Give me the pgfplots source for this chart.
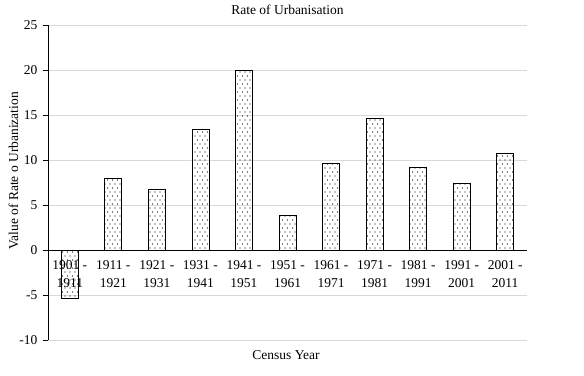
\documentclass[border=0pt]{standalone}
\usepackage{fontspec}
\setmainfont{Liberation Serif}
\usepackage{pgfplots}
\pgfplotsset{compat=1.18}
\usetikzlibrary{patterns}

% sparse staggered dot fill for the bars
\pgfdeclarepatternformonly{sparsedots}{\pgfqpoint{-0.8bp}{-0.8bp}}{\pgfqpoint{4.2bp}{7.2bp}}{\pgfqpoint{5bp}{8bp}}{%
  \pgfpathcircle{\pgfqpoint{0bp}{0bp}}{0.6bp}%
  \pgfpathcircle{\pgfqpoint{2.5bp}{4bp}}{0.6bp}%
  \pgfusepath{fill}%
}

\pgfplotstableread{
x  val
0  -5.35
1   7.9
2   6.75
3  13.45
4  19.9
5   3.8
6   9.65
7  14.65
8   9.2
9   7.45
10 10.75
}\urbanrate

\newcommand\chartfont{\fontsize{13.5bp}{15bp}\selectfont}

\begin{document}
\chartfont
\begin{tikzpicture}
\useasboundingbox (0,0) rectangle (584bp,376bp);
\begin{axis}[
  at={(48bp,36bp)}, anchor=south west,
  scale only axis, width=479bp, height=315bp,
  xmin=-0.5, xmax=10.5, ymin=-10, ymax=25,
  axis x line=middle, axis y line=left,
  x axis line style={-, black},
  y axis line style={-, black},
  xtick=data,
  xticklabels={{1901 -\\1911},{1911 -\\1921},{1921 -\\1931},{1931 -\\1941},{1941 -\\1951},{1951 -\\1961},{1961 -\\1971},{1971 -\\1981},{1981 -\\1991},{1991 -\\2001},{2001 -\\2011}},
  xticklabel style={align=center, font=\fontsize{13.5bp}{17.5bp}\selectfont, yshift=-1bp},
  x tick style={draw=none},
  ytick={-10,-5,0,5,10,15,20,25},
  yticklabels={-10,-5,0,5,10,15,20,25},
  yticklabel style={font=\chartfont, xshift=-1bp},
  y tick style={black},
  tick align=outside, major tick length=5bp,
  ymajorgrids, grid style={draw=black!15, line width=0.8bp},
  title={Rate of Urbanisation},
  title style={at={(axis description cs:0.5,1)}, anchor=south, yshift=0bp, font=\chartfont},
  xlabel={Census Year},
  xlabel style={at={(axis description cs:0.497,0)}, anchor=north, yshift=-6bp, font=\chartfont},
  ylabel={Value of Rate o Urbanization},
  ylabel style={at={(axis description cs:-0.072,0.537)}, anchor=center, font=\chartfont},
  clip=false,
]
\addplot[ybar, bar width=17bp, draw=black, line width=0.8bp, pattern=sparsedots, pattern color=black]
  table[x=x, y=val] {\urbanrate};
\end{axis}
\end{tikzpicture}
\end{document}
